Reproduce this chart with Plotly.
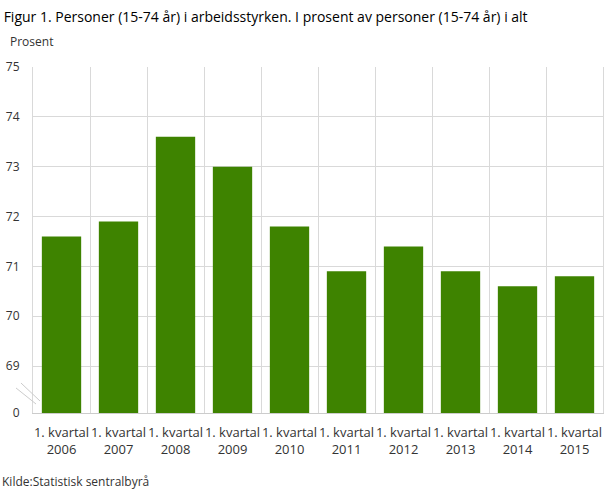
import plotly.graph_objects as go

categories = ["1. kvartal<br>2006", "1. kvartal<br>2007", "1. kvartal<br>2008", "1. kvartal<br>2009",
              "1. kvartal<br>2010", "1. kvartal<br>2011", "1. kvartal<br>2012", "1. kvartal<br>2013",
              "1. kvartal<br>2014", "1. kvartal<br>2015"]
values = [71.6, 71.9, 73.6, 73.0, 71.8, 70.9, 71.4, 70.9, 70.6, 70.8]
y_tick_labels = ["0", "69", "70", "71", "72", "73", "74", "75"]

# broken axis: "0" is drawn just below 69
zero_pos = 68.057
y_tick_vals = [zero_pos, 69, 70, 71, 72, 73, 74, 75]

font_main = "Open Sans, sans-serif"

fig = go.Figure()
fig.add_trace(go.Bar(x=categories, y=values, marker_color="#3e8300",
                     marker_line_width=0, hoverinfo="y"))

fig.update_layout(
    width=609, height=489,
    margin=dict(l=33, r=6, t=67, b=76, autoexpand=False),
    paper_bgcolor="white", plot_bgcolor="white",
    bargap=0.31,
    showlegend=False,
    font=dict(family=font_main, size=12, color="#333333"),
    title=dict(text="Figur 1. Personer (15-74 år) i arbeidsstyrken. I prosent av personer (15-74 år) i alt",
               x=0.006, xanchor="left", y=0.965, yanchor="middle",
               font=dict(family=font_main, size=14, color="#000000")),
    xaxis=dict(type="category", tickson="boundaries", showgrid=True, gridcolor="#d9d9d9",
               gridwidth=1, showline=True, linecolor="#cccccc", linewidth=1, mirror=False,
               ticks="", tickangle=0, automargin=False, ticklabelstandoff=7,
               tickfont=dict(size=13, color="#333333"), fixedrange=True),
    yaxis=dict(range=[zero_pos, 75], tickvals=y_tick_vals, ticktext=y_tick_labels,
               showgrid=True, gridcolor="#d9d9d9", gridwidth=1, zeroline=False,
               showline=True, linecolor="#d9d9d9", linewidth=1, mirror=True,
               ticks="", ticklabelstandoff=10, automargin=False,
               tickfont=dict(size=12, color="#333333"), fixedrange=True),
    annotations=[
        dict(text="Prosent", xref="paper", yref="paper", x=-0.044, y=1.043,
             xanchor="left", yanchor="bottom", showarrow=False,
             font=dict(size=12, color="#333333")),
        dict(text="Kilde:Statistisk sentralbyrå", xref="paper", yref="paper", x=-0.058, y=-0.168,
             xanchor="left", yanchor="top", showarrow=False,
             font=dict(size=12, color="#333333")),
    ],
    shapes=[
        dict(type="line", xref="paper", yref="paper", x0=-0.0211, y0=0.0867, x1=0.0123, y1=0.0347,
             line=dict(color="#cccccc", width=1)),
        dict(type="line", xref="paper", yref="paper", x0=-0.0298, y0=0.0723, x1=0.0053, y1=0.026,
             line=dict(color="#cccccc", width=1)),
    ],
)

fig.write_html("out.html", config={"displayModeBar": False},
               post_script="document.body.style.margin='0';")
